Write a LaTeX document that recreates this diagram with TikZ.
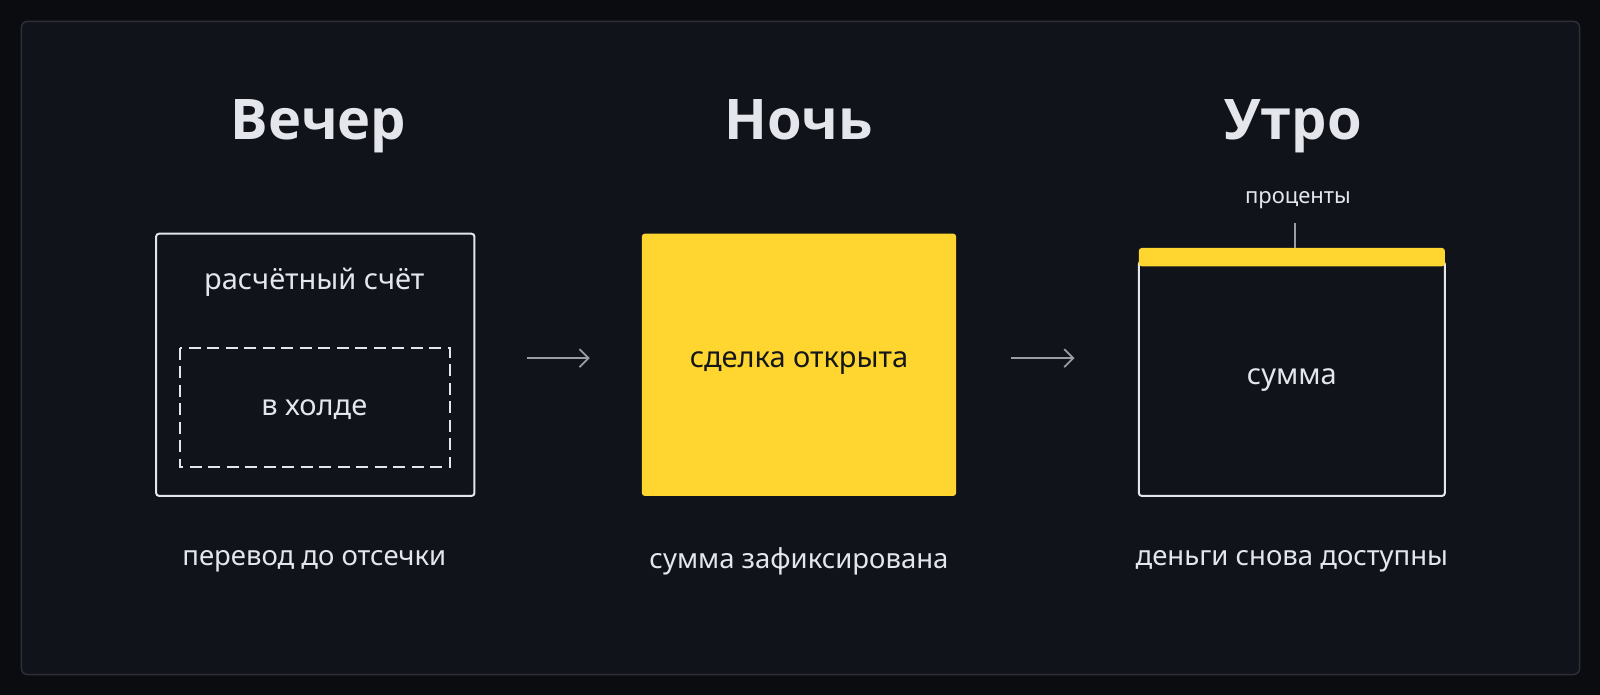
\documentclass[tikz,border=0pt]{standalone}
\usepackage{fontspec}
\setmainfont{Noto Sans}
\newfontfamily\titlefont{Open Sans}[BoldFont={* Bold}]
\usetikzlibrary{arrows.meta}
\definecolor{bgout}{HTML}{0B0C10}
\definecolor{panel}{HTML}{10131A}
\definecolor{panelline}{HTML}{2C2F37}
\definecolor{txt}{HTML}{E4E6EC}
\definecolor{arrowgray}{HTML}{9A9DA6}
\definecolor{ylw}{HTML}{FFD630}
\definecolor{darktxt}{HTML}{15161A}
\tikzset{
  title/.style={text=txt, font=\titlefont\bfseries\fontsize{56}{60}\selectfont, inner sep=0pt, anchor=base},
  body/.style={text=txt, font=\fontsize{29}{33}\selectfont, inner sep=0pt},
  label/.style={text=txt, font=\fontsize{27.5}{31}\selectfont, inner sep=0pt},
  small/.style={text=txt, font=\fontsize{22}{26}\selectfont, inner sep=0pt},
  card/.style={draw=txt, line width=2pt, rounded corners=3pt},
  holdbox/.style={draw=txt, line width=2pt, dash pattern=on 12pt off 6.5pt},
  flow/.style={draw=arrowgray, line width=1.8pt, -{Straight Barb[length=9pt,width=18pt,line width=1.8pt]}},
}
\begin{document}
\begin{tikzpicture}[x=1.0204pt,y=-1.0204pt]
\useasboundingbox (0,0) rectangle (1568,681);
\fill[bgout] (0,0) rectangle (1568,681);
\draw[panelline, fill=panel, line width=1.5pt, rounded corners=6pt] (21,21) rectangle (1548,661);

% titles
\node[title] (t1) at (312,137) {Вечер};
\node[title] (t2) at (783,137) {Ночь};
\node[title] (t3) at (1267,137) {Утро};

% box 1
\draw[card] (153,229) rectangle (465,486);
\node[body] (acc) at (308,277) {расчётный счёт};
\draw[holdbox] (176,341) rectangle (441,458);
\node[body] (hold) at (308,401) {в холде};

% box 2
\fill[ylw, rounded corners=3pt] (629,229) rectangle (937,486);
\node[body, text=darktxt] (deal) at (783,356) {сделка открыта};

% box 3
\draw[card] (1116,256) rectangle (1416,486);
\fill[ylw, rounded corners=3pt] (1116,243) rectangle (1416,261);
\node[body] (sum) at (1266,372) {сумма};
\node[small] (pct) at (1272,196) {проценты};
\coordinate (strip) at (1269,243);
\coordinate (tick) at (1269,219);
\draw[arrowgray, line width=1.5pt] (tick) -- (strip);

% arrows
\coordinate (a1s) at (516,351);
\coordinate (a1e) at (578,351);
\coordinate (a2s) at (991,351);
\coordinate (a2e) at (1053,351);
\draw[flow] (a1s) -- (a1e);
\draw[flow] (a2s) -- (a2e);

% bottom labels
\node[label] (l1) at (308,550) {перевод до отсечки};
\node[label] (l2) at (783,550) {сумма зафиксирована};
\node[label] (l3) at (1266,550) {деньги снова доступны};
\end{tikzpicture}
\end{document}
